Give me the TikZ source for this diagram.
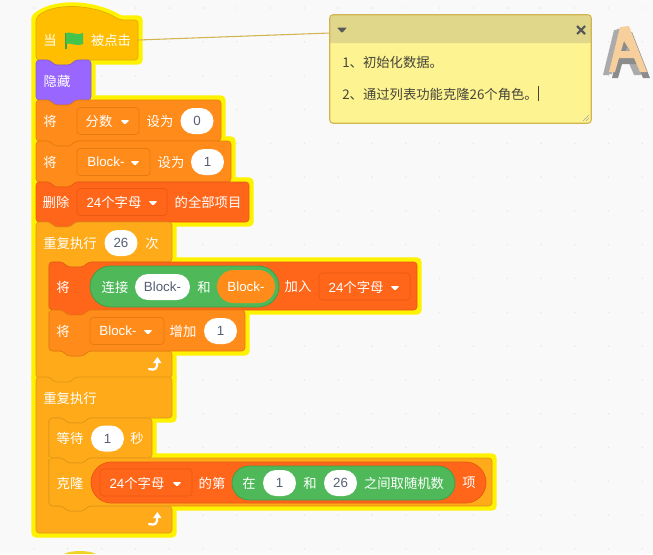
\documentclass[tikz,border=0pt]{standalone}
\usepackage{fontspec}
\setmainfont{Noto Sans CJK SC}
\newfontfamily\latinfont{Liberation Sans}
\usetikzlibrary{shapes.misc}

\definecolor{canvas}{HTML}{F9F9F9}
\definecolor{griddot}{HTML}{E6E6E6}
\definecolor{eventfill}{HTML}{FFBF00}
\definecolor{eventline}{HTML}{E0A800}
\definecolor{looksfill}{HTML}{9966FF}
\definecolor{looksline}{HTML}{855CD6}
\definecolor{varfill}{HTML}{FF8C1A}
\definecolor{varline}{HTML}{E67A10}
\definecolor{listfill}{HTML}{FF661A}
\definecolor{listline}{HTML}{E85A12}
\definecolor{ctrlfill}{HTML}{FFAB19}
\definecolor{ctrlline}{HTML}{E0961A}
\definecolor{opfill}{HTML}{4FB95A}
\definecolor{opline}{HTML}{3F9E4A}
\definecolor{slottext}{HTML}{575E75}
\definecolor{notefill}{HTML}{FDF391}
\definecolor{notehead}{HTML}{E1D78A}
\definecolor{noteline}{HTML}{D2B450}
\definecolor{notetext}{HTML}{45453A}
\definecolor{spritepeach}{HTML}{F6CF9C}
\definecolor{spritegrey}{HTML}{ABABAB}
\definecolor{spritedark}{HTML}{8C8C8C}

\newcommand{\blocklat}[1]{{\latinfont #1}}
\newcommand{\stackblock}[5]{\path[#1] (#2,#3) -- ({#2+14},#3) -- ({#2+18},{#3+5}) -- ({#2+35},{#3+5}) -- ({#2+39},#3) -- (#4,#3) -- (#4,#5) -- ({#2+39},#5) -- ({#2+35},{#5+5}) -- ({#2+18},{#5+5}) -- ({#2+14},#5) -- (#2,#5) -- cycle;}
\newcommand{\loopblock}[6]{\path[#1] (36,#2) -- (50,#2) -- (54,{#2+5}) -- (71,{#2+5}) -- (75,#2) -- (172,#2) -- (172,#3) -- (88,#3) -- (84,{#3+5}) -- (67,{#3+5}) -- (63,#3) -- (49,#3) -- (49,#4) -- (63,#4) -- (67,{#4+5}) -- (84,{#4+5}) -- (88,#4) -- (172,#4) -- (172,#5) -- (75,#5) -- (71,{#5+#6}) -- (54,{#5+#6}) -- (50,#5) -- (36,#5) -- cycle;}
\newcommand{\hatblock}[1]{\path[#1] (36,18) .. controls (52,3) and (92,3) .. (120,20) -- (138,20) -- (138,60) -- (75,60) -- (71,65) -- (54,65) -- (50,60) -- (36,60) -- cycle;}

\tikzset{
  glow/.style={draw=yellow,line width=7pt,line join=round,fill=yellow},
  blockshape/.style n args={2}{fill=#1,draw=#2,line width=0.5pt,rounded corners=2.5pt},
  blocktext/.style={text=white,font=\fontsize{10}{12}\selectfont,inner sep=0pt},
  inputpill/.style={rounded rectangle,fill=white,text=slottext,inner sep=0pt,minimum width=24.75pt,minimum height=19.5pt,font=\fontsize{10}{12}\selectfont\latinfont},
  menubox/.style n args={2}{fill=#1,draw=#2,line width=0.5pt,rounded corners=2.5pt,inner sep=0pt,minimum height=20.25pt},
  opspill/.style={rounded rectangle,fill=opfill,draw=opline,line width=0.6pt,inner sep=0pt},
  notetextstyle/.style={anchor=west,text=notetext,font=\fontsize{10}{12}\selectfont,inner sep=0pt},
}

\begin{document}
\begin{tikzpicture}[x=0.75pt,y=-0.75pt]
  \useasboundingbox (0,0) rectangle (653,554);
  \fill[canvas] (0,0) rectangle (653,554);
  \foreach \i in {0,...,18}
    \foreach \j in {0,...,16}
      \fill[griddot] ({34+33.8*\i},{8+33.8*\j}) circle (0.6pt);

  % glow round the whole stack
  \hatblock{glow}
  \foreach \xa/\ya/\xb/\yb in {36/60/91/100,36/100/221/141,36/141/231/182,36/182/249/222,49/262/417/310,49/310/245/351,49/418/152/458,49/458/492/506}{
    \stackblock{glow}{\xa}{\ya}{\xb}{\yb}
  }
  \loopblock{glow}{222}{262}{351}{378}{5}
  \loopblock{glow}{377}{418}{506}{533}{0}

  % the next hat, cut off by the lower edge
  \fill[yellow!70!brown] (64,554) .. controls (72,550) and (88,550) .. (96,554) -- cycle;

  % blocks
  \hatblock{blockshape={eventfill}{eventline}}
  \stackblock{blockshape={looksfill}{looksline}}{36}{60}{91}{100}
  \stackblock{blockshape={varfill}{varline}}{36}{100}{221}{141}
  \stackblock{blockshape={varfill}{varline}}{36}{141}{231}{182}
  \stackblock{blockshape={listfill}{listline}}{36}{182}{249}{222}
  \loopblock{blockshape={ctrlfill}{ctrlline}}{222}{262}{351}{378}{5}
  \stackblock{blockshape={listfill}{listline}}{49}{262}{417}{310}
  \stackblock{blockshape={varfill}{varline}}{49}{310}{245}{351}
  \loopblock{blockshape={ctrlfill}{ctrlline}}{377}{418}{506}{533}{0}
  \stackblock{blockshape={ctrlfill}{ctrlline}}{49}{418}{152}{458}
  \stackblock{blockshape={ctrlfill}{ctrlline}}{49}{458}{492}{506}

  % hat
  \node[blocktext] (whenlabel) at (50,40) {当};
  \draw[opline,line width=1pt] (66,49) -- (66,33);
  \fill[opfill!85!green] (66,33) .. controls (71,31) and (75,36) .. (83,33) -- (83,44) .. controls (75,47) and (71,42) .. (66,44) -- cycle;
  \node[blocktext] (clickedlabel) at (111,40) {被点击};
  \node[blocktext] (hidelabel) at (57,81) {隐藏};

  % set score
  \node[blocktext] (setonelabel) at (50,121) {将};
  \node[menubox={varfill}{varline},minimum width=46.5pt] (scoremenu) at (108,121) {};
  \node[blocktext] (scorelabel) at (99,121) {分数};
  \node[blocktext] (setonetext) at (160,121) {设为};
  \node[inputpill] (zeropill) at (197,121) {0};

  % set block
  \node[blocktext] (settwolabel) at (50,162) {将};
  \node[menubox={varfill}{varline},minimum width=54.75pt] (blockmenu) at (113.5,162) {};
  \node[blocktext] (blockname) at (106,162) {\blocklat{Block-}};
  \node[blocktext] (settwotext) at (171,162) {设为};
  \node[inputpill] (onepill) at (207.5,162) {1};

  % delete all
  \node[blocktext] (deletelabel) at (56,202) {删除};
  \node[menubox={listfill}{listline},minimum width=67.5pt] (listmenu) at (122,202) {};
  \node[blocktext] (listname) at (114,202) {\blocklat{24}个字母};
  \node[blocktext] (deletetext) at (208,202) {的全部项目};

  % repeat 26
  \node[blocktext] (repeatlabel) at (70,243) {重复执行};
  \node[inputpill] (timespill) at (121,243) {26};
  \node[blocktext] (timeslabel) at (152,243) {次};

  % add join to list
  \node[blocktext] (addlabel) at (63,287) {将};
  \node[opspill,minimum width=141.75pt,minimum height=30.75pt] (joinpill) at (184.5,286.5) {};
  \node[blocktext] (joinlabel) at (115,287) {连接};
  \node[inputpill,minimum width=41.25pt] (joinleft) at (162.5,287) {Block-};
  \node[blocktext] (andlabel) at (204,287) {和};
  \node[rounded rectangle,fill=varfill,text=white,inner sep=0pt,minimum width=43.5pt,minimum height=24.75pt,font=\fontsize{10}{12}\selectfont\latinfont] (joinright) at (246,286.5) {Block-};
  \node[blocktext] (addtext) at (298,287) {加入};
  \node[menubox={listfill}{listline},minimum width=68.25pt] (addmenu) at (364.5,286.5) {};
  \node[blocktext] (addlist) at (356,287) {\blocklat{24}个字母};

  % change block
  \node[blocktext] (changelabel) at (63,331) {将};
  \node[menubox={varfill}{varline},minimum width=55.5pt] (changemenu) at (127,331) {};
  \node[blocktext] (changename) at (118,331) {\blocklat{Block-}};
  \node[blocktext] (changetext) at (183,331) {增加};
  \node[inputpill] (changepill) at (220.5,331) {1};

  % forever
  \node[blocktext] (foreverlabel) at (70,398) {重复执行};
  \node[blocktext] (waitlabel) at (70,438) {等待};
  \node[inputpill] (waitpill) at (107.5,438.5) {1};
  \node[blocktext] (secondlabel) at (137,438) {秒};

  % clone item of list
  \node[blocktext] (clonelabel) at (70,483) {克隆};
  \node[rounded rectangle,fill=listfill,draw=listline,line width=0.6pt,inner sep=0pt,minimum width=296.25pt,minimum height=30.75pt] (itempill) at (288.5,482.5) {};
  \node[menubox={listfill}{listline},minimum width=69pt] (clonemenu) at (146,482.5) {};
  \node[blocktext] (clonelist) at (137,483) {\blocklat{24}个字母};
  \node[blocktext] (itemlabel) at (212,483) {的第};
  \node[opspill,minimum width=167.25pt,minimum height=25.5pt] (randompill) at (343.5,483) {};
  \node[blocktext] (fromlabel) at (249,483) {在};
  \node[inputpill] (frompill) at (279.5,483) {1};
  \node[blocktext] (tolabel) at (310,483) {和};
  \node[inputpill] (topill) at (340.5,483) {26};
  \node[blocktext] (randomlabel) at (404,483) {之间取随机数};
  \node[blocktext] (entrylabel) at (469,483) {项};

  % menu tips and loop arrows
  \foreach \x/\y in {125/120,135/161,153/201,395/286,148/330,177/482}
    \fill[white,rounded corners=0.8pt] ({\x-4.5},\y) -- ({\x+4.5},\y) -- (\x,{\y+4.5}) -- cycle;
  \foreach \x/\y in {155/365,155/520}{
    \draw[white,line width=1.7pt,line cap=round] ({\x-6},{\y+4}) .. controls ({\x},{\y+6}) and ({\x+3},{\y+3}) .. ({\x+2},{\y-3});
    \fill[white] ({\x-2},{\y-2}) -- ({\x+2.5},{\y-8}) -- ({\x+6.5},{\y-2}) -- cycle;
  }

  % comment note
  \node[fill=notefill,rounded corners=2.5pt,minimum width=195.75pt,minimum height=81pt,inner sep=0pt] (note) at (460.5,69) {};
  \fill[notehead,rounded corners=2.5pt] (330,43) -- (330,15) -- (591,15) -- (591,43) -- cycle;
  \fill[notehead] (330,38) rectangle (591,43);
  \draw[noteline,line width=0.8pt,rounded corners=2.5pt] (note.north west) rectangle (note.south east);
  \coordinate (hatedge) at (138,40);
  \coordinate (noteedge) at (330,33);
  \draw[noteline,line width=0.8pt] (hatedge) -- (noteedge);
  \fill[black!65,rounded corners=0.6pt] (337,27.5) -- (347,27.5) -- (342,33) -- cycle;
  \draw[black!65,line width=1.6pt] (577,26) -- (585,34) (585,26) -- (577,34);
  \node[notetextstyle] (noteone) at (342,62) {1、初始化数据。};
  \node[notetextstyle] (notetwo) at (342,94) {2、通过列表功能克隆26个角色。};
  \draw[notetext,line width=0.6pt] (538,86) -- (538,101);
  \draw[black!35,line width=0.5pt] (583,121) -- (589,115) (586,121) -- (589,118);

  % sprite
  \foreach \dx/\dy/\tone in {-6/3/spritegrey,-3/2/spritegrey,3/6/spritedark,0/0/spritepeach}{
    \fill[\tone,even odd rule] ({620+\dx},{27+\dy}) -- ({629+\dx},{26+\dy}) -- ({647+\dx},{72+\dy}) -- ({640+\dx},{72+\dy}) -- ({634+\dx},{58+\dy}) -- ({619+\dx},{58+\dy}) -- ({615+\dx},{72+\dy}) -- ({609+\dx},{72+\dy}) -- cycle
      ({624+\dx},{41+\dy}) -- ({621+\dx},{51+\dy}) -- ({630+\dx},{51+\dy}) -- cycle;
  }
\end{tikzpicture}
\end{document}
